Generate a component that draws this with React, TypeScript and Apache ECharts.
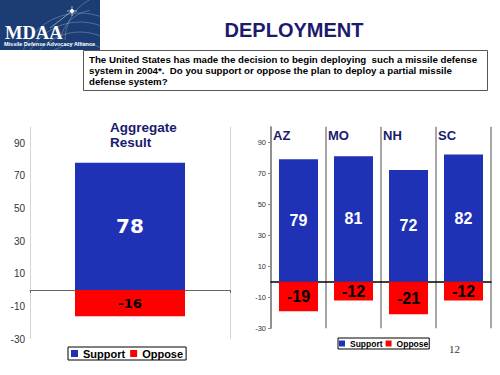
import React, { useEffect, useRef } from "react";
import * as echarts from "echarts";

const aggCategory = ["Aggregate Result"];
const aggSupport = [78];
const aggOppose = [-16];
const states = ["AZ", "MO", "NH", "SC"];
const stateSupport = [79, 81, 72, 82];
const stateOppose = [-19, -12, -21, -12];
const yTicks = [-30, -10, 10, 30, 50, 70, 90];
const seriesNames = ["Support", "Oppose"];

const BLUE = "#1f31b5";
const RED = "#ff0000";
const NAVY = "#1a1a6e";
const SANS = "Liberation Sans, Arial, sans-serif";
const WIDE = "DejaVu Sans, Verdana, sans-serif";

export default function App() {
  const ref = useRef<HTMLDivElement>(null);
  useEffect(() => {
    if (!ref.current) return;
    const chart = echarts.init(ref.current, null, { renderer: "svg" });
    const arcStyle = { stroke: "rgba(255,255,255,0.35)", lineWidth: 0.7, fill: "none" };
    const option: any = {
      animation: false,
      backgroundColor: "#ffffff",
      grid: [
        { left: 30, top: 126.7, width: 200, height: 212.3 },
        { left: 271, top: 126.7, width: 220, height: 201.6 },
      ],
      xAxis: [
        {
          type: "category",
          gridIndex: 0,
          data: aggCategory,
          axisLine: { onZero: true, lineStyle: { color: "#666", width: 1 } },
          axisTick: { show: true, length: 3, lineStyle: { color: "#666" } },
          axisLabel: { show: false },
          splitLine: { show: true, lineStyle: { color: "#d4d4d4", width: 1 } },
        },
        {
          type: "category",
          gridIndex: 1,
          data: states,
          axisLine: { onZero: true, lineStyle: { color: "#000", width: 1.5 } },
          axisTick: { show: false },
          axisLabel: { show: false },
          splitLine: { show: true, lineStyle: { color: "#8a8a8a", width: 1.5 } },
        },
        {
          type: "category",
          gridIndex: 1,
          position: "top",
          boundaryGap: false,
          data: [...states, ""],
          axisLine: { show: false, onZero: false },
          axisTick: { show: false },
          splitLine: { show: false },
          axisLabel: {
            inside: true,
            margin: 2,
            align: "left",
            padding: [0, 0, 0, 2],
            color: NAVY,
            fontFamily: SANS,
            fontWeight: "bold",
            fontSize: 13,
          },
        },
      ],
      yAxis: [
        {
          type: "value",
          gridIndex: 0,
          min: -30,
          max: 100,
          interval: 20,
          axisLine: { show: false },
          axisTick: { show: false, customValues: yTicks },
          splitLine: { show: false },
          axisLabel: {
            customValues: yTicks,
            margin: 5,
            color: "#333",
            fontFamily: SANS,
            fontSize: 10,
          },
        },
        {
          type: "value",
          gridIndex: 1,
          min: -30,
          max: 100,
          interval: 20,
          axisLine: { show: true, lineStyle: { color: "#888", width: 1.5 } },
          axisTick: { show: true, length: 3, customValues: yTicks, lineStyle: { color: "#888" } },
          splitLine: { show: false },
          axisLabel: {
            customValues: yTicks,
            margin: 5,
            color: "#333",
            fontFamily: SANS,
            fontSize: 7.5,
          },
        },
      ],
      legend: [
        {
          data: seriesNames,
          left: 68,
          top: 347,
          orient: "horizontal",
          itemWidth: 7,
          itemHeight: 7,
          itemGap: 5,
          padding: [1, 3, 1, 3],
          borderColor: "#000",
          borderWidth: 1,
          backgroundColor: "#fff",
          icon: "rect",
          selectedMode: false,
          textStyle: { fontFamily: SANS, fontWeight: "bold", fontSize: 11, color: "#000" },
        },
        {
          data: seriesNames,
          left: 338,
          top: 338,
          orient: "horizontal",
          itemWidth: 6,
          itemHeight: 6,
          itemGap: 3,
          padding: [1, 1, 1, 1],
          borderColor: "#000",
          borderWidth: 1,
          backgroundColor: "#fff",
          icon: "rect",
          selectedMode: false,
          textStyle: { fontFamily: SANS, fontWeight: "bold", fontSize: 8.5, color: "#000" },
        },
      ],
      series: [
        {
          name: seriesNames[0],
          type: "bar",
          xAxisIndex: 0,
          yAxisIndex: 0,
          data: aggSupport,
          barWidth: 110,
          itemStyle: { color: BLUE },
          label: {
            show: true,
            position: "inside",
            color: "#fff",
            fontFamily: WIDE,
            fontWeight: "bold",
            fontSize: 20,
          },
        },
        {
          name: seriesNames[1],
          type: "bar",
          xAxisIndex: 0,
          yAxisIndex: 0,
          data: aggOppose,
          barWidth: 110,
          barGap: "-100%",
          itemStyle: { color: RED },
          label: {
            show: true,
            position: "inside",
            color: "#000",
            fontFamily: WIDE,
            fontWeight: "bold",
            fontSize: 13,
          },
        },
        {
          name: seriesNames[0],
          type: "bar",
          xAxisIndex: 1,
          yAxisIndex: 1,
          data: stateSupport,
          barWidth: 39,
          itemStyle: { color: BLUE },
          label: {
            show: true,
            position: "inside",
            color: "#fff",
            fontFamily: SANS,
            fontWeight: "bold",
            fontSize: 16,
          },
        },
        {
          name: seriesNames[1],
          type: "bar",
          xAxisIndex: 1,
          yAxisIndex: 1,
          data: stateOppose,
          barWidth: 39,
          barGap: "-100%",
          itemStyle: { color: RED },
          label: {
            show: true,
            position: "inside",
            color: "#000",
            fontFamily: SANS,
            fontWeight: "bold",
            fontSize: 16,
          },
        },
      ],
      graphic: [
        { type: "rect", shape: { x: 0, y: 0, width: 100, height: 50 }, style: { fill: "#1b3d73" } },
        { type: "arc", shape: { cx: 80, cy: 75, r: 62, startAngle: Math.PI * 1.08, endAngle: Math.PI * 1.72 }, style: arcStyle },
        { type: "arc", shape: { cx: 80, cy: 80, r: 58, startAngle: Math.PI * 1.1, endAngle: Math.PI * 1.7 }, style: arcStyle },
        { type: "arc", shape: { cx: 80, cy: 86, r: 54, startAngle: Math.PI * 1.12, endAngle: Math.PI * 1.68 }, style: arcStyle },
        { type: "arc", shape: { cx: 80, cy: 93, r: 50, startAngle: Math.PI * 1.14, endAngle: Math.PI * 1.66 }, style: arcStyle },
        { type: "arc", shape: { cx: 110, cy: 40, r: 45, startAngle: Math.PI * 1.0, endAngle: Math.PI * 1.35 }, style: arcStyle },
        { type: "arc", shape: { cx: 95, cy: 45, r: 35, startAngle: Math.PI * 1.05, endAngle: Math.PI * 1.45 }, style: arcStyle },
        { type: "line", shape: { x1: 50, y1: 28, x2: 72, y2: 11 }, style: { stroke: "rgba(255,255,255,0.6)", lineWidth: 0.8 } },
        { type: "circle", shape: { cx: 72, cy: 11, r: 2 }, style: { fill: "#ffffff" } },
        { type: "line", shape: { x1: 67, y1: 11, x2: 77, y2: 11 }, style: { stroke: "#fff", lineWidth: 0.6 } },
        { type: "line", shape: { x1: 72, y1: 6, x2: 72, y2: 16 }, style: { stroke: "#fff", lineWidth: 0.6 } },
        {
          type: "text",
          x: 5,
          y: 23,
          style: {
            text: "MDAA",
            fill: "#fff",
            font: "bold 18.5px 'Liberation Serif', 'Times New Roman', serif",
          },
        },
        {
          type: "text",
          x: 4,
          y: 41,
          style: {
            text: "Missile Defense Advocacy Alliance",
            fill: "#fff",
            font: "bold 5.5px 'Liberation Sans', Arial, sans-serif",
          },
        },
        {
          type: "text",
          x: 294,
          y: 30,
          style: {
            text: "DEPLOYMENT",
            fill: NAVY,
            align: "center",
            verticalAlign: "middle",
            font: "bold 20px 'Liberation Sans', Arial, sans-serif",
          },
        },
        {
          type: "rect",
          shape: { x: 83.5, y: 50.5, width: 404, height: 40 },
          style: { fill: "#fff", stroke: "#555", lineWidth: 1 },
        },
        {
          type: "text",
          x: 89,
          y: 54,
          style: {
            text:
              "The United States has made the decision to begin deploying  such a missile defense\nsystem in 2004*.  Do you support or oppose the plan to deploy a partial missile\ndefense system?",
            fill: "#000",
            lineHeight: 11,
            font: "bold 9.7px 'Liberation Sans', Arial, sans-serif",
          },
        },
        {
          type: "text",
          x: 110,
          y: 120,
          style: {
            text: "Aggregate\nResult",
            fill: NAVY,
            lineHeight: 15,
            font: "bold 13.5px 'Liberation Sans', Arial, sans-serif",
          },
        },
        {
          type: "text",
          x: 449,
          y: 343,
          style: {
            text: "12",
            fill: "#333",
            font: "11px 'Liberation Serif', 'Times New Roman', serif",
          },
        },
      ],
    };
    chart.setOption(option);
    return () => chart.dispose();
  }, []);
  return (
    <div
      ref={ref}
      style={{ position: "absolute", left: 0, top: 0, width: 500, height: 375 }}
    />
  );
}
